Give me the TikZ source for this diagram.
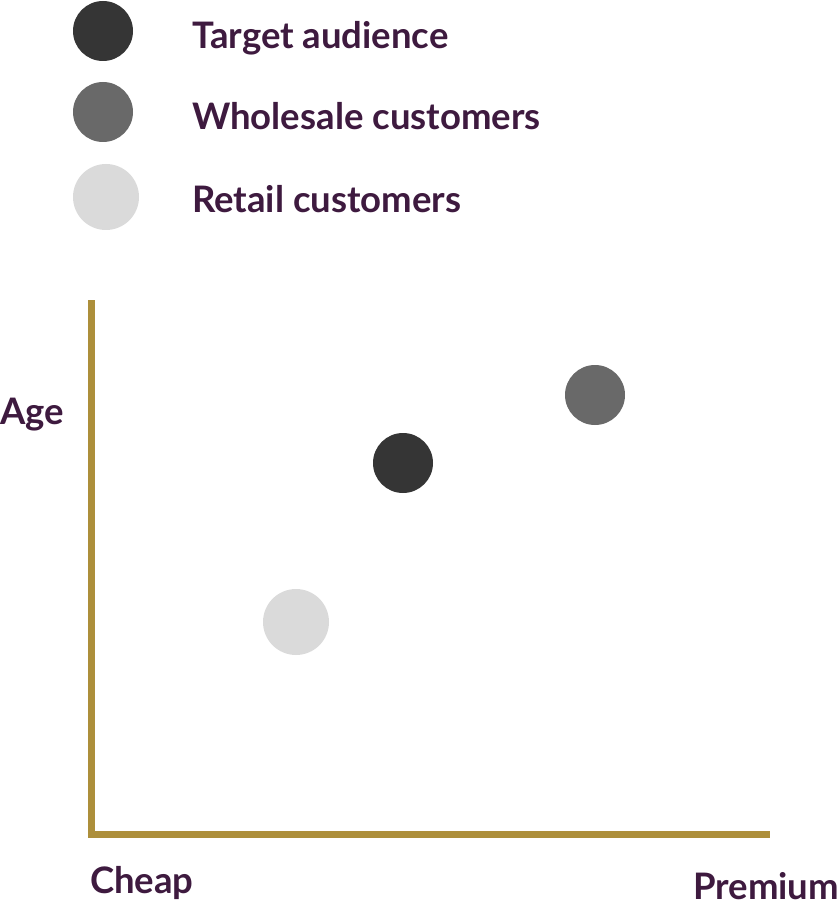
\documentclass[tikz,border=0pt]{standalone}
\usepackage{fontspec}
\setmainfont{Lato}
\usetikzlibrary{positioning}

\definecolor{plum}{HTML}{3E1A3F}
\definecolor{gold}{HTML}{AD8F3B}
\definecolor{darkdot}{HTML}{353535}
\definecolor{middot}{HTML}{696969}
\definecolor{lightdot}{HTML}{DADADA}

\begin{document}
\begin{tikzpicture}[x=1pt, y=-1pt,
  dot/.style={circle, inner sep=0pt, minimum size=60pt},
  label/.style={anchor=base west, text=plum, font=\fontsize{36.5}{42}\selectfont\bfseries, inner sep=0pt}]

\useasboundingbox (0,0) rectangle (838,909);

\coordinate (top) at (91.5,300);
\coordinate (origin) at (91.5,834);
\coordinate (right) at (770,834);

\draw [gold, line width=7pt] (top)--(origin)--(right);

% legend
\node [dot, fill=darkdot] (legTarget) at (103,31) {};
\node [dot, fill=middot] (legWholesale) at (103,112) {};
\node [dot, fill=lightdot, minimum size=66pt] (legRetail) at (106,197) {};

\node [label] (txtTarget) at (192,49) {Target audience};
\node [label] (txtWholesale) at (192,130) {Wholesale customers};
\node [label] (txtRetail) at (192,213) {Retail customers};

% points
\node [dot, fill=darkdot] (target) at (403,463) {};
\node [dot, fill=middot] (wholesale) at (595,395) {};
\node [dot, fill=lightdot, minimum size=66pt] (retail) at (296,622) {};

% axis labels
\node [label] (age) at (0,424) {Age};
\node [label] (cheap) at (90,893) {Cheap};
\node [label] (premium) at (693,899) {Premium};

\end{tikzpicture}
\end{document}
